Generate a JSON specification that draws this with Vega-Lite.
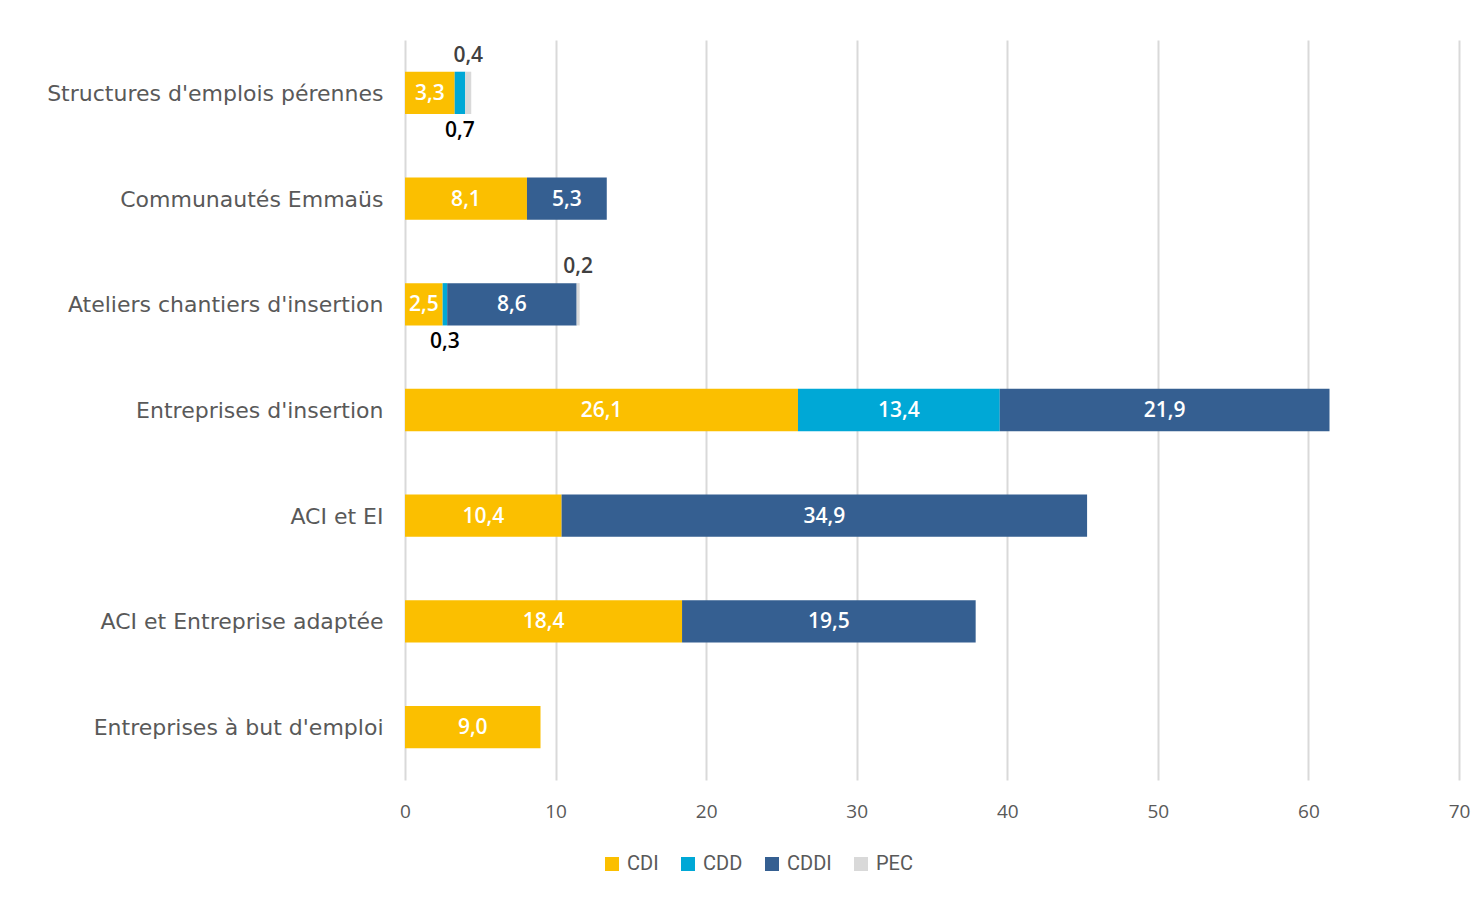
{
  "$schema": "https://vega.github.io/schema/vega-lite/v6.json",
  "width": 1054,
  "height": 740,
  "autosize": "none",
  "padding": {"left": 405, "top": 40, "right": 25, "bottom": 117},
  "background": "white",
  "config": {
    "view": {"stroke": null},
    "locale": {"number": {"decimal": ",", "thousands": " ", "grouping": [3], "currency": ["", " €"]}},
    "font": "Open Sans"
  },
  "data": {
    "values": [
      {"cat": "Structures d'emplois pérennes", "type": "CDI", "v": 3.3},
      {"cat": "Structures d'emplois pérennes", "type": "CDD", "v": 0.7},
      {"cat": "Structures d'emplois pérennes", "type": "PEC", "v": 0.4},
      {"cat": "Communautés Emmaüs", "type": "CDI", "v": 8.1},
      {"cat": "Communautés Emmaüs", "type": "CDDI", "v": 5.3},
      {"cat": "Ateliers chantiers d'insertion", "type": "CDI", "v": 2.5},
      {"cat": "Ateliers chantiers d'insertion", "type": "CDD", "v": 0.3},
      {"cat": "Ateliers chantiers d'insertion", "type": "CDDI", "v": 8.6},
      {"cat": "Ateliers chantiers d'insertion", "type": "PEC", "v": 0.2},
      {"cat": "Entreprises d'insertion", "type": "CDI", "v": 26.1},
      {"cat": "Entreprises d'insertion", "type": "CDD", "v": 13.4},
      {"cat": "Entreprises d'insertion", "type": "CDDI", "v": 21.9},
      {"cat": "ACI et EI", "type": "CDI", "v": 10.4},
      {"cat": "ACI et EI", "type": "CDDI", "v": 34.9},
      {"cat": "ACI et Entreprise adaptée", "type": "CDI", "v": 18.4},
      {"cat": "ACI et Entreprise adaptée", "type": "CDDI", "v": 19.5},
      {"cat": "Entreprises à but d'emploi", "type": "CDI", "v": 9.0}
    ]
  },
  "transform": [
    {"calculate": "indexof(['CDI','CDD','CDDI','PEC'], datum.type)", "as": "k"},
    {"stack": "v", "groupby": ["cat"], "sort": [{"field": "k", "order": "ascending"}], "as": ["x0", "x1"]},
    {"calculate": "(datum.x0 + datum.x1) / 2", "as": "xm"}
  ],
  "encoding": {
    "y": {
      "field": "cat",
      "type": "nominal",
      "sort": null,
      "title": null,
      "scale": {"paddingInner": 0.6, "paddingOuter": 0.3},
      "axis": {"ticks": false, "domain": false, "labelFontSize": 22, "labelColor": "#595959", "labelPadding": 22, "labelLimit": 400, "labelFont": "DejaVu Sans", "labelBaseline": "middle", "labelOffset": 1}
    }
  },
  "layer": [
    {
      "mark": {"type": "bar"},
      "encoding": {
        "x": {
          "field": "x0",
          "type": "quantitative",
          "title": null,
          "scale": {"domain": [0, 70], "nice": false},
          "axis": {"values": [0, 10, 20, 30, 40, 50, 60, 70], "grid": true, "gridColor": "#D9D9D9", "gridWidth": 2, "domain": false, "ticks": false, "labelFlush": false, "labelFontSize": 19, "labelColor": "#595959", "labelPadding": 22, "labelFont": "Open Sans"}
        },
        "x2": {"field": "x1"},
        "color": {
          "field": "type",
          "type": "nominal",
          "title": null,
          "scale": {"domain": ["CDI", "CDD", "CDDI", "PEC"], "range": ["#FBBF00", "#00A8D6", "#355F91", "#D9D9D9"]},
          "legend": {"orient": "none", "legendX": 197, "legendY": 814, "direction": "horizontal", "symbolType": "square", "symbolSize": 196, "symbolStrokeWidth": 0, "labelFontSize": 20, "labelColor": "#595959", "labelOffset": 5, "columnPadding": 19, "labelFont": "Roboto"}
        }
      }
    },
    {
      "transform": [{"filter": "datum.v >= 1"}],
      "mark": {"type": "text", "color": "white", "fontSize": 21, "baseline": "middle", "align": "center", "dy": 1, "font": "Open Sans", "fontWeight": 600},
      "encoding": {
        "x": {"field": "xm", "type": "quantitative"},
        "text": {"field": "v", "type": "quantitative", "format": ".1f"}
      }
    },
    {
      "transform": [{"filter": "datum.v < 1 && datum.type == 'CDD'"}],
      "mark": {"type": "text", "color": "#000000", "fontSize": 21, "baseline": "middle", "align": "center", "dy": 38, "font": "Open Sans", "fontWeight": 600},
      "encoding": {
        "x": {"field": "xm", "type": "quantitative"},
        "text": {"field": "v", "type": "quantitative", "format": ".1f"}
      }
    },
    {
      "transform": [{"filter": "datum.v < 1 && datum.type == 'PEC'"}],
      "mark": {"type": "text", "color": "#404040", "fontSize": 21, "baseline": "middle", "align": "center", "dy": -37, "font": "Open Sans", "fontWeight": 600},
      "encoding": {
        "x": {"field": "xm", "type": "quantitative"},
        "text": {"field": "v", "type": "quantitative", "format": ".1f"}
      }
    }
  ]
}
